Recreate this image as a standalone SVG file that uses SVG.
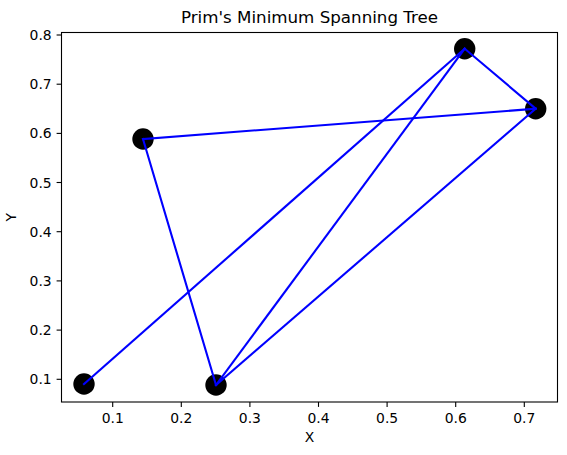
<svg xmlns="http://www.w3.org/2000/svg" width="567" height="455" viewBox="0 0 567 455">
<style>
text{font-family:"DejaVu Sans",sans-serif;fill:#000}
.tick{font-size:13.9px}
.yt{text-anchor:end}
.xt{text-anchor:middle}
.tm{stroke:#000;stroke-width:1.1}
.node{fill:#000}
.edge{stroke:#0000ff;stroke-width:2.1;fill:none;stroke-linecap:square}
</style>
<rect x="0" y="0" width="567" height="455" fill="#fff"/>
<text x="309.5" y="23" font-size="16.7" text-anchor="middle">Prim's Minimum Spanning Tree</text>
<g id="axes">
<rect x="61.5" y="32.5" width="496" height="369.5" fill="none" stroke="#000" stroke-width="1.1"/>
<g class="tm">
<line x1="112.7" y1="402" x2="112.7" y2="406.9"/>
<line x1="181.3" y1="402" x2="181.3" y2="406.9"/>
<line x1="249.9" y1="402" x2="249.9" y2="406.9"/>
<line x1="318.5" y1="402" x2="318.5" y2="406.9"/>
<line x1="387.1" y1="402" x2="387.1" y2="406.9"/>
<line x1="455.7" y1="402" x2="455.7" y2="406.9"/>
<line x1="524.3" y1="402" x2="524.3" y2="406.9"/>
<line x1="56.6" y1="379.3" x2="61.5" y2="379.3"/>
<line x1="56.6" y1="330.1" x2="61.5" y2="330.1"/>
<line x1="56.6" y1="280.9" x2="61.5" y2="280.9"/>
<line x1="56.6" y1="231.7" x2="61.5" y2="231.7"/>
<line x1="56.6" y1="182.5" x2="61.5" y2="182.5"/>
<line x1="56.6" y1="133.4" x2="61.5" y2="133.4"/>
<line x1="56.6" y1="84.2" x2="61.5" y2="84.2"/>
<line x1="56.6" y1="35" x2="61.5" y2="35"/>
</g>
<g class="tick xt">
<text x="112.7" y="422.5">0.1</text>
<text x="181.3" y="422.5">0.2</text>
<text x="249.9" y="422.5">0.3</text>
<text x="318.5" y="422.5">0.4</text>
<text x="387.1" y="422.5">0.5</text>
<text x="455.7" y="422.5">0.6</text>
<text x="524.3" y="422.5">0.7</text>
</g>
<g class="tick yt">
<text x="51.7" y="384.3">0.1</text>
<text x="51.7" y="335.1">0.2</text>
<text x="51.7" y="285.9">0.3</text>
<text x="51.7" y="236.7">0.4</text>
<text x="51.7" y="187.5">0.5</text>
<text x="51.7" y="138.4">0.6</text>
<text x="51.7" y="89.2">0.7</text>
<text x="51.7" y="40">0.8</text>
</g>
<text x="309.5" y="441.7" font-size="13.9" text-anchor="middle">X</text>
<text transform="translate(15.5,217.3) rotate(-90)" font-size="13.9" text-anchor="middle">Y</text>
</g>
<g id="node-a"><circle class="node" cx="84" cy="384" r="10.7"/></g>
<g id="node-b"><circle class="node" cx="143" cy="139" r="10.7"/></g>
<g id="node-c"><circle class="node" cx="216" cy="385" r="10.7"/></g>
<g id="node-d"><circle class="node" cx="464.7" cy="48.7" r="10.7"/></g>
<g id="node-e"><circle class="node" cx="535.7" cy="108.7" r="10.7"/></g>
<g id="connectors" class="edge">
<line x1="84" y1="384" x2="464.7" y2="48.7"/>
<line x1="143" y1="139" x2="535.7" y2="108.7"/>
<line x1="143" y1="139" x2="216" y2="385"/>
<line x1="216" y1="385" x2="464.7" y2="48.7"/>
<line x1="216" y1="385" x2="535.7" y2="108.7"/>
<line x1="464.7" y1="48.7" x2="535.7" y2="108.7"/>
</g>
</svg>
